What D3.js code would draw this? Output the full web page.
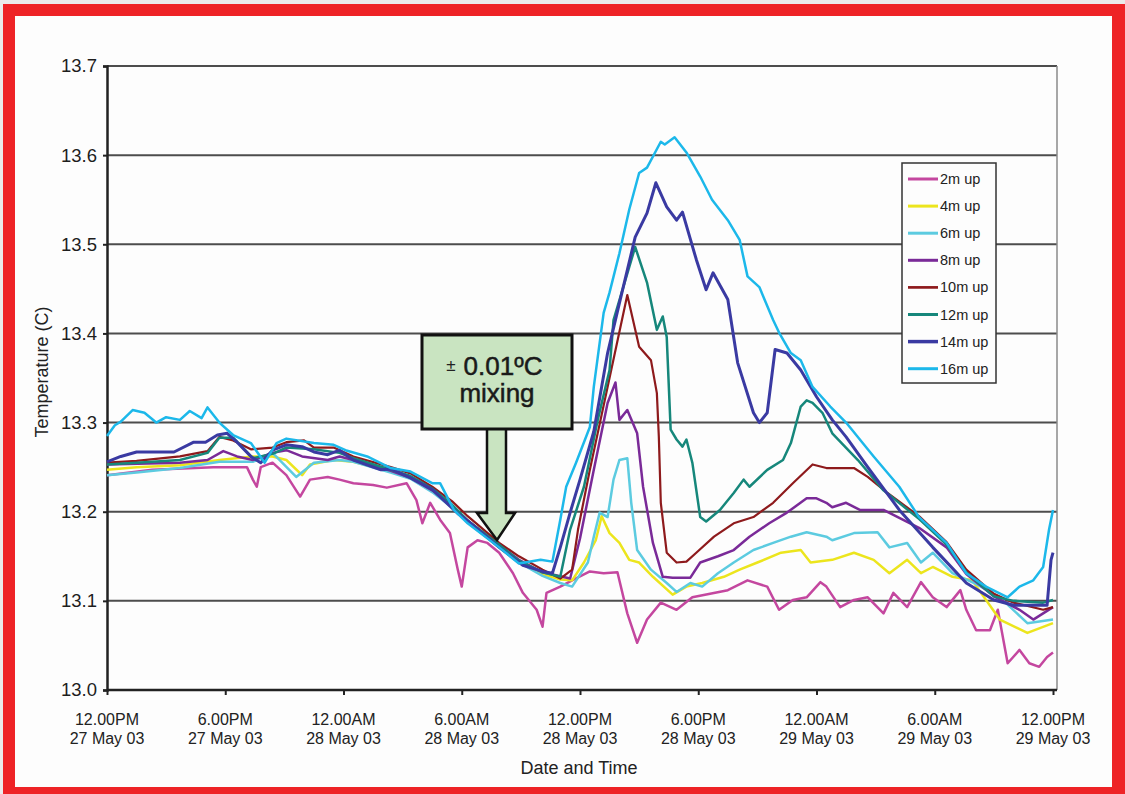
<!DOCTYPE html>
<html>
<head>
<meta charset="utf-8">
<script src="https://cdn.jsdelivr.net/npm/d3@7"></script>
<style>
  body { margin: 0; background: #ebebeb; }
  svg { display: block; font-family: "Liberation Sans", Arial, Helvetica, sans-serif; }
</style>
</head>
<body>
<div class="chart"></div>
<script>
// hours after 12.00PM 27 May 03
var hourTicks = [0, 6, 12, 18, 24, 30, 36, 42, 48];
var tickTime = ["12.00PM", "6.00PM", "12.00AM", "6.00AM", "12.00PM", "6.00PM", "12.00AM", "6.00AM", "12.00PM"];
var tickDate = ["27 May 03", "27 May 03", "28 May 03", "28 May 03", "28 May 03", "28 May 03", "29 May 03", "29 May 03", "29 May 03"];
var tempTicks = [13.0, 13.1, 13.2, 13.3, 13.4, 13.5, 13.6, 13.7];

var seriesNames = ["2m up", "4m up", "6m up", "8m up", "10m up", "12m up", "14m up", "16m up"];
var seriesColors = ["#c4479f", "#ece51d", "#5ccbe0", "#7a2a98", "#8e1a1c", "#16877b", "#3a3aa2", "#1cb8ea"];
var seriesWidths = [2.5, 2.5, 2.5, 2.5, 2.2, 2.5, 3, 2.5];

// [hour, temperature C]
var s2m = [[0,13.241],[2.3,13.247],[5.4,13.250],[7.1,13.250],[7.4,13.236],[7.6,13.228],[7.8,13.250],[8.4,13.255],[9.1,13.241],[9.8,13.217],[10.3,13.236],[11.2,13.239],[11.8,13.236],[12.5,13.232],[13.5,13.230],[14.2,13.227],[15.2,13.232],[15.7,13.213],[16.0,13.187],[16.4,13.210],[16.9,13.191],[17.4,13.176],[17.8,13.135],[18.0,13.116],[18.3,13.160],[18.8,13.168],[19.3,13.165],[19.9,13.154],[20.6,13.131],[21.1,13.109],[21.8,13.090],[22.1,13.071],[22.3,13.109],[23.0,13.116],[23.6,13.123],[24.5,13.133],[25.2,13.131],[25.9,13.132],[26.4,13.086],[26.9,13.053],[27.4,13.079],[28.1,13.098],[28.9,13.090],[29.7,13.104],[30.6,13.108],[31.5,13.112],[32.5,13.123],[33.5,13.116],[34.1,13.090],[34.8,13.101],[35.5,13.104],[36.2,13.121],[36.5,13.116],[37.2,13.093],[37.9,13.101],[38.6,13.104],[39.4,13.086],[39.9,13.109],[40.6,13.093],[41.3,13.121],[41.9,13.104],[42.6,13.093],[43.3,13.112],[43.6,13.090],[44.1,13.067],[44.8,13.067],[45.2,13.090],[45.7,13.030],[46.3,13.045],[46.8,13.030],[47.3,13.026],[47.7,13.037],[48,13.042]];
var s4m = [[0,13.247],[1.5,13.250],[3.7,13.252],[5.7,13.258],[7.4,13.262],[8.4,13.262],[9.1,13.258],[9.9,13.241],[10.3,13.253],[11.5,13.258],[12.5,13.256],[14.4,13.245],[15.4,13.238],[16.5,13.225],[17.5,13.207],[18.3,13.190],[19.9,13.163],[20.9,13.145],[22.1,13.130],[23.0,13.124],[23.6,13.123],[24.2,13.143],[24.8,13.168],[25.1,13.195],[25.5,13.176],[26.0,13.165],[26.5,13.146],[27.0,13.143],[27.7,13.127],[28.7,13.107],[29.4,13.116],[30.2,13.120],[31.3,13.127],[32.1,13.135],[33.0,13.143],[34.2,13.154],[35.2,13.157],[35.7,13.143],[36.8,13.146],[37.9,13.154],[38.9,13.146],[39.7,13.131],[40.6,13.146],[41.3,13.131],[41.9,13.138],[42.9,13.127],[43.9,13.123],[45.3,13.079],[46.7,13.064],[48,13.075]];
var s6m = [[0,13.241],[1.5,13.244],[3.7,13.249],[5.7,13.256],[7.4,13.256],[8.4,13.266],[9.6,13.239],[10.5,13.255],[11.8,13.258],[12.5,13.256],[14.4,13.244],[15.4,13.237],[16.5,13.222],[17.5,13.205],[18.3,13.188],[19.9,13.160],[20.9,13.143],[22.1,13.128],[23.0,13.120],[23.6,13.116],[24.4,13.143],[24.7,13.172],[25.0,13.199],[25.4,13.194],[25.7,13.236],[26.0,13.258],[26.4,13.260],[26.6,13.210],[26.9,13.157],[27.6,13.135],[28.4,13.120],[28.9,13.110],[29.6,13.120],[30.2,13.116],[31.0,13.131],[31.8,13.143],[32.8,13.157],[33.8,13.165],[34.7,13.172],[35.5,13.177],[36.5,13.172],[36.8,13.168],[37.9,13.176],[39.1,13.177],[39.7,13.160],[40.6,13.165],[41.3,13.143],[41.9,13.154],[42.9,13.131],[44.0,13.120],[45.3,13.104],[46.7,13.075],[48,13.079]];
var s8m = [[0,13.253],[3.7,13.255],[5.1,13.258],[5.9,13.268],[6.6,13.262],[7.4,13.258],[8.4,13.266],[9.1,13.269],[9.9,13.262],[11.2,13.258],[11.8,13.262],[12.5,13.258],[14.4,13.246],[15.4,13.238],[16.5,13.224],[17.5,13.207],[18.3,13.190],[19.9,13.163],[20.9,13.146],[22.1,13.132],[23.5,13.125],[24.0,13.170],[24.7,13.247],[25.4,13.322],[25.8,13.345],[26.0,13.303],[26.4,13.314],[26.9,13.288],[27.2,13.228],[27.7,13.165],[28.2,13.127],[28.7,13.126],[29.6,13.126],[30.1,13.143],[31.0,13.150],[31.8,13.157],[32.6,13.172],[33.6,13.187],[34.5,13.199],[35.5,13.215],[36.0,13.215],[36.5,13.210],[36.8,13.205],[37.5,13.210],[38.2,13.202],[39.4,13.202],[40.2,13.193],[41.2,13.182],[42.6,13.160],[43.6,13.130],[45.0,13.105],[46.3,13.090],[47.0,13.079],[48,13.093]];
var s10m = [[0,13.255],[1.5,13.257],[3.7,13.262],[5.1,13.268],[5.7,13.284],[6.4,13.280],[7.3,13.270],[8.4,13.272],[9.1,13.278],[10.0,13.280],[10.5,13.272],[11.5,13.272],[12.5,13.262],[14.4,13.250],[15.4,13.243],[16.5,13.228],[17.5,13.212],[18.3,13.195],[19.9,13.165],[20.9,13.150],[22.1,13.135],[23.0,13.125],[23.6,13.135],[23.9,13.180],[24.5,13.247],[25.4,13.340],[26.4,13.443],[27.0,13.385],[27.6,13.370],[27.9,13.333],[28.0,13.284],[28.1,13.210],[28.4,13.154],[28.9,13.143],[29.4,13.144],[29.9,13.154],[30.8,13.172],[31.8,13.187],[32.8,13.194],[33.8,13.210],[34.8,13.232],[35.8,13.253],[36.5,13.249],[37.9,13.249],[38.6,13.239],[39.6,13.221],[41.2,13.195],[42.6,13.166],[43.6,13.135],[45.0,13.108],[46.0,13.098],[47.5,13.090],[48,13.093]];
var s12m = [[0,13.253],[1.5,13.255],[3.7,13.258],[5.1,13.266],[5.7,13.283],[6.4,13.283],[7.4,13.260],[8.4,13.265],[9.1,13.272],[10.5,13.270],[11.8,13.266],[12.5,13.260],[14.4,13.247],[15.4,13.240],[16.5,13.226],[17.5,13.208],[18.3,13.190],[19.9,13.163],[20.9,13.145],[22.1,13.132],[23.0,13.127],[23.5,13.180],[24.2,13.228],[24.9,13.303],[25.5,13.359],[25.7,13.415],[26.8,13.497],[27.4,13.457],[27.9,13.404],[28.2,13.419],[28.4,13.396],[28.6,13.292],[28.9,13.281],[29.2,13.273],[29.4,13.281],[29.7,13.255],[30.1,13.194],[30.4,13.189],[31.1,13.202],[31.8,13.221],[32.3,13.236],[32.6,13.228],[33.5,13.247],[34.3,13.258],[34.7,13.277],[35.2,13.318],[35.5,13.325],[35.8,13.322],[36.3,13.311],[36.8,13.288],[38.1,13.258],[39.4,13.224],[41.2,13.192],[42.6,13.163],[43.6,13.132],[45.0,13.105],[46.0,13.100],[47.5,13.098],[48,13.101]];
var s14m = [[0,13.256],[0.7,13.262],[1.5,13.267],[2.7,13.267],[3.4,13.267],[4.4,13.278],[5.0,13.278],[5.6,13.286],[6.1,13.288],[6.6,13.278],[7.3,13.262],[7.8,13.255],[8.4,13.269],[9.1,13.275],[9.9,13.273],[10.5,13.267],[11.2,13.264],[11.8,13.269],[12.5,13.258],[13.9,13.247],[14.4,13.248],[15.4,13.238],[16.5,13.225],[17.8,13.198],[18.3,13.190],[19.9,13.160],[21.1,13.140],[22.1,13.133],[22.6,13.131],[23.0,13.160],[23.5,13.199],[24.0,13.236],[24.7,13.290],[25.4,13.378],[26.0,13.434],[26.8,13.508],[27.4,13.535],[27.85,13.569],[28.4,13.542],[28.9,13.527],[29.2,13.536],[29.9,13.483],[30.4,13.449],[30.75,13.468],[31.5,13.438],[32.0,13.367],[32.8,13.311],[33.1,13.300],[33.5,13.311],[33.9,13.382],[34.5,13.378],[35.2,13.359],[36.0,13.329],[36.8,13.303],[37.5,13.284],[38.6,13.250],[40.2,13.202],[41.9,13.160],[43.6,13.120],[45.0,13.101],[46.0,13.095],[47.7,13.095],[47.9,13.146],[48,13.154]];
var s16m = [[0,13.285],[0.4,13.297],[0.7,13.301],[1.3,13.314],[1.9,13.311],[2.5,13.300],[3.0,13.306],[3.7,13.303],[4.2,13.313],[4.8,13.305],[5.1,13.317],[5.7,13.300],[6.4,13.286],[7.3,13.277],[8.0,13.255],[8.6,13.277],[9.1,13.282],[10.5,13.277],[11.5,13.275],[12.1,13.269],[13.2,13.262],[14.4,13.249],[15.4,13.245],[16.5,13.232],[16.9,13.232],[17.6,13.202],[18.3,13.187],[19.9,13.160],[20.9,13.142],[22.0,13.146],[22.6,13.144],[23.0,13.191],[23.3,13.228],[23.8,13.255],[24.5,13.295],[24.7,13.340],[25.2,13.423],[25.5,13.446],[26.0,13.490],[26.5,13.539],[27.0,13.580],[27.4,13.586],[28.1,13.615],[28.3,13.612],[28.8,13.620],[29.4,13.603],[30.1,13.576],[30.7,13.550],[31.5,13.527],[32.1,13.505],[32.5,13.464],[33.1,13.452],[33.8,13.415],[34.1,13.401],[34.7,13.378],[35.2,13.370],[35.8,13.340],[36.7,13.318],[37.5,13.300],[38.9,13.262],[40.2,13.228],[41.2,13.194],[42.6,13.165],[43.6,13.131],[44.6,13.116],[45.7,13.104],[46.3,13.116],[47.0,13.123],[47.5,13.138],[47.8,13.180],[48,13.202]];

var allSeries = [s2m, s4m, s6m, s8m, s10m, s12m, s14m, s16m];

var svgWidth = 1125, svgHeight = 794;
var plotLeft = 107, plotRight = 1057, plotTop = 66, plotBottom = 690;

var svg = d3.select(".chart").append("svg")
    .attr("width", svgWidth)
    .attr("height", svgHeight);

// red frame
svg.append("rect").attr("x", 3).attr("y", 4).attr("width", svgWidth - 3).attr("height", svgHeight - 4).attr("fill", "#ee2326");
svg.append("rect").attr("x", 15).attr("y", 16).attr("width", 1097).attr("height", 771).attr("fill", "#fdfdfd");

var x = d3.scaleLinear().domain([0, 48]).range([plotLeft, 1053]);
var y = d3.scaleLinear().domain([13.0, 13.7]).range([plotBottom, plotTop]);

// gridlines
svg.append("g").selectAll("line")
    .data(tempTicks.slice(1))
    .enter().append("line")
    .attr("x1", plotLeft).attr("x2", plotRight)
    .attr("y1", function(d) { return y(d); })
    .attr("y2", function(d) { return y(d); })
    .attr("stroke", "#4d4d4d")
    .attr("stroke-width", 2);

// right border
svg.append("line")
    .attr("x1", plotRight).attr("x2", plotRight)
    .attr("y1", plotTop).attr("y2", plotBottom)
    .attr("stroke", "#8a8a8a").attr("stroke-width", 1.5);

// y axis
var yAxis = d3.axisLeft(y).tickValues(tempTicks).tickFormat(d3.format(".1f")).tickSize(4).tickPadding(6);
var gy = svg.append("g").attr("transform", "translate(" + plotLeft + ",0)").call(yAxis);
gy.select(".domain").attr("stroke", "#222").attr("stroke-width", 2.5);
gy.selectAll(".tick line").attr("stroke", "#222").attr("stroke-width", 2);
gy.selectAll(".tick text").attr("font-size", 18.5).attr("fill", "#1e1e1e").attr("font-family", "Liberation Sans, Arial, sans-serif");

// x axis
var xAxis = d3.axisBottom(x).tickValues(hourTicks).tickSize(5).tickFormat("");
var gx = svg.append("g").attr("transform", "translate(0," + plotBottom + ")").call(xAxis);
gx.select(".domain").attr("stroke", "#222").attr("stroke-width", 2.5).attr("d", "M" + plotLeft + ",0H" + plotRight);
gx.selectAll(".tick line").attr("stroke", "#222").attr("stroke-width", 2);

var xl = svg.append("g").selectAll("text")
    .data(hourTicks)
    .enter().append("text")
    .attr("text-anchor", "middle")
    .attr("font-size", 16)
    .attr("fill", "#222");
xl.append("tspan").attr("x", function(d) { return x(d); }).attr("y", 725).text(function(d, i) { return tickTime[i]; });
xl.append("tspan").attr("x", function(d) { return x(d); }).attr("y", 744).text(function(d, i) { return tickDate[i]; });

// axis titles
svg.append("text").attr("x", 579).attr("y", 774).attr("text-anchor", "middle")
    .attr("font-size", 18).attr("fill", "#222").text("Date and Time");
svg.append("text").attr("transform", "translate(48,372) rotate(-90)").attr("text-anchor", "middle")
    .attr("font-size", 18).attr("fill", "#222").text("Temperature (C)");

// series lines
var line = d3.line()
    .x(function(d) { return x(d[0]); })
    .y(function(d) { return y(d[1]); });

svg.append("g").selectAll("path")
    .data(allSeries)
    .enter().append("path")
    .attr("d", line)
    .attr("fill", "none")
    .attr("stroke", function(d, i) { return seriesColors[i]; })
    .attr("stroke-width", function(d, i) { return seriesWidths[i]; })
    .attr("stroke-linejoin", "round");

// legend
var legend = svg.append("g").attr("transform", "translate(902,163)");
legend.append("rect").attr("width", 94).attr("height", 220)
    .attr("fill", "#fdfdfd").attr("stroke", "#333").attr("stroke-width", 1.5);
var items = legend.selectAll(".item")
    .data(seriesNames)
    .enter().append("g")
    .attr("class", "item")
    .attr("transform", function(d, i) { return "translate(0," + (16 + i * 27.1) + ")"; });
items.append("line").attr("x1", 6).attr("x2", 36)
    .attr("stroke", function(d, i) { return seriesColors[i]; })
    .attr("stroke-width", function(d, i) { return seriesWidths[i] + 0.5; });
items.append("text").attr("x", 38).attr("y", 5).attr("font-size", 14.5).attr("fill", "#222")
    .text(function(d) { return d; });

// annotation box and arrow
var note = svg.append("g");
note.append("path")
    .attr("d", "M487,429V513H477L497,540L515,513H506V429")
    .attr("fill", "#c9e4c1").attr("stroke", "#111").attr("stroke-width", 2.5).attr("stroke-linejoin", "miter");
note.append("rect").attr("x", 422).attr("y", 335).attr("width", 150).attr("height", 94)
    .attr("fill", "#c9e4c1").attr("stroke", "#111").attr("stroke-width", 3);
note.append("text").attr("x", 451).attr("y", 371).attr("text-anchor", "middle")
    .attr("font-size", 17).attr("fill", "#222").text("±");
note.append("text").attr("x", 503).attr("y", 375).attr("text-anchor", "middle")
    .attr("font-size", 26).attr("fill", "#1a1a1a").attr("stroke", "#1a1a1a").attr("stroke-width", 0.5).text("0.01ºC");
note.append("text").attr("x", 497).attr("y", 402).attr("text-anchor", "middle")
    .attr("font-size", 26).attr("fill", "#1a1a1a").attr("stroke", "#1a1a1a").attr("stroke-width", 0.5).text("mixing");
</script>
</body>
</html>
